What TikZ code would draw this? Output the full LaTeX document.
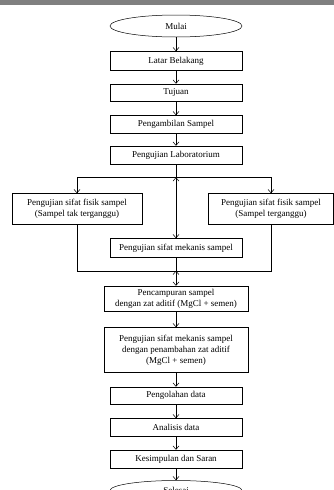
\documentclass[tikz,border=0pt]{standalone}
\usepackage{fontspec}
\setmainfont{Liberation Serif}
\usetikzlibrary{shapes,arrows}
\usetikzlibrary{arrows.meta,positioning}

\begin{document}
\begin{tikzpicture}[node distance=13pt, >={Straight Barb[length=3.5pt,width=6pt]},
    line width=0.5pt,
    font=\fontsize{9}{11}\selectfont,
    block/.style = {draw, rectangle, minimum height=18pt, minimum width=132pt, inner sep=1pt, align=center},
    term/.style = {draw, ellipse, minimum height=22pt, minimum width=132pt, inner sep=0pt},]
    \useasboundingbox (0,0) rectangle (334pt,-490pt);
    \clip (0,0) rectangle (334pt,-490pt);
    \fill[black!50] (0,0) rectangle (334pt,-5pt);
    \node [term] (mulai) at (176pt,-26pt) {Mulai};
    \node [block, minimum height=19pt, below=14pt of mulai] (latar) {Latar Belakang};
    \node [block, minimum height=17pt, below=of latar] (tujuan) {Tujuan};
    \node [block, below=14pt of tujuan] (ambil) {Pengambilan Sampel};
    \node [block, below=12pt of ambil] (lab) {Pengujian Laboratorium};
    \coordinate [below=of lab] (fork);
    \node [block, minimum height=31pt, minimum width=130pt, below=16pt of fork, xshift=-99pt] (fisik_tak) {Pengujian sifat fisik sampel\\(Sampel tak terganggu)};
    \node [block, minimum height=31pt, minimum width=125pt, below=16pt of fork, xshift=95pt] (fisik_ter) {Pengujian sifat fisik sampel\\(Sampel terganggu)};
    \node [block, minimum height=19pt, below=61pt of fork] (mekanis) {Pengujian sifat mekanis sampel};
    \coordinate [below=of mekanis] (join);
    \node [block, minimum height=25pt, minimum width=144pt, below=15pt of join] (campur) {Pencampuran sampel\\dengan zat aditif (MgCl + semen)};
    \node [block, minimum height=45pt, minimum width=144pt, below=16pt of campur] (tambah) {Pengujian sifat mekanis sampel\\dengan penambahan zat aditif\\(MgCl + semen)};
    \node [block, minimum height=17pt, below=14pt of tambah] (olah) {Pengolahan data};
    \node [block, below=14pt of olah] (analisis) {Analisis data};
    \node [block, below=of analisis] (simpul) {Kesimpulan dan Saran};
    \node [term, minimum height=20pt, below=12pt of simpul] (selesai) {Selesai};
    \draw[->] (mulai) edge (latar);
    \draw[->] (latar) edge (tujuan);
    \draw[->] (tujuan) edge (ambil);
    \draw[->] (ambil) edge (lab);
    \draw (lab) -- (fork);
    \draw[->] (fork) edge (mekanis);
    \draw[->] (fork) -| (fisik_tak);
    \draw[->] (fork) -| (fisik_ter);
    \draw (fisik_tak) |- (join);
    \draw (fisik_ter) |- (join);
    \draw (mekanis) -- (join);
    \draw[->] (join) edge (campur);
    \draw[->] (campur) edge (tambah);
    \draw[->] (tambah) edge (olah);
    \draw[->] (olah) edge (analisis);
    \draw[->] (analisis) edge (simpul);
    \draw[->] (simpul) edge (selesai);
  \end{tikzpicture}
\end{document}
